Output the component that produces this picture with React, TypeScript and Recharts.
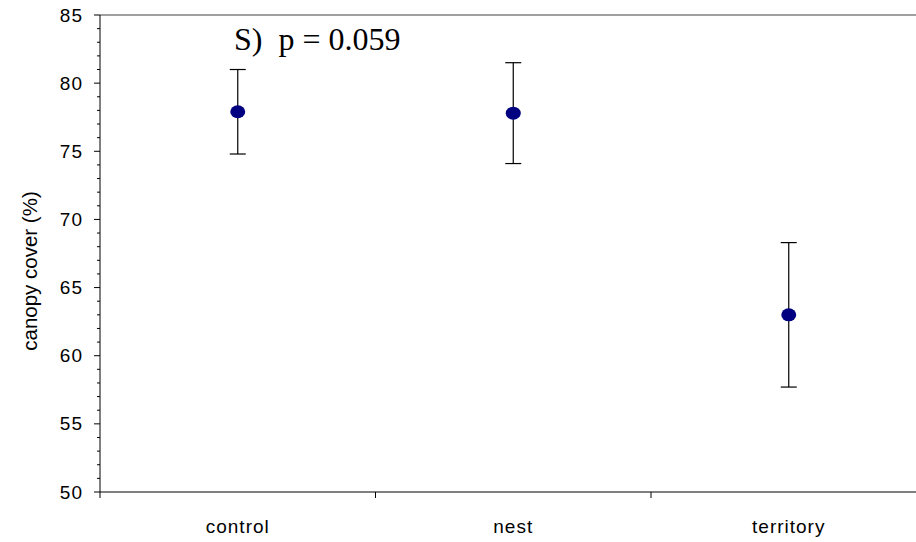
import React from "react";
import {
    ComposedChart,
    Scatter,
    ErrorBar,
    XAxis,
    YAxis,
    ReferenceLine,
} from "recharts";

const categories = ["control", "nest", "territory"];
const means = [77.9, 77.8, 63.0];
const errors = [3.1, 3.7, 5.3];
const majorTicks = [50, 55, 60, 65, 70, 75, 80, 85];
const allTicks = Array.from({ length: 36 }, (_, i) => 50 + i);

const data = categories.map((name, i) => ({
    name,
    mean: means[i],
    err: errors[i],
}));

const sans = "'Liberation Sans', Arial, sans-serif";

function YTick(props: any) {
    const { x, y, payload } = props;
    const major = majorTicks.includes(payload.value);
    return (
        <g>
            <line x1={x - (major ? 6 : 3)} x2={x} y1={y} y2={y} stroke="#000" />
            {major && (
                <text
                    x={x - 17}
                    y={y}
                    textAnchor="end"
                    dominantBaseline="central"
                    fontSize={19}
                    letterSpacing={1}
                    fontFamily={sans}
                    fill="#000"
                >
                    {payload.value}
                </text>
            )}
        </g>
    );
}

function XTick(props: any) {
    const { x, y, payload, index, width } = props;
    const half = payload.offset || width / categories.length / 2;
    return (
        <g>
            <line x1={x + half} x2={x + half} y1={y} y2={y + 6} stroke="#000" />
            {index === 0 && (
                <line x1={x - half} x2={x - half} y1={y} y2={y + 6} stroke="#000" />
            )}
            <text
                x={x}
                y={y + 41}
                textAnchor="middle"
                fontSize={19}
                letterSpacing={1}
                fontFamily={sans}
                fill="#000"
            >
                {payload.value}
            </text>
        </g>
    );
}

function Dot(props: any) {
    const { cx, cy } = props;
    return <ellipse cx={cx} cy={cy} rx={7.5} ry={6.5} fill="#000080" />;
}

function YLabel() {
    return (
        <text
            x={29}
            y={271}
            transform="rotate(-90, 29, 271)"
            textAnchor="middle"
            dominantBaseline="central"
            fontSize={20.5}
            fontFamily={sans}
            fill="#000"
        >
            canopy cover (%)
        </text>
    );
}

export default function App() {
    return (
        <div
            style={{
                position: "absolute",
                left: 0,
                top: 0,
                width: 916,
                height: 542,
                overflow: "hidden",
                background: "#fff",
            }}
        >
            <ComposedChart
                width={940}
                height={542}
                data={data}
                margin={{ top: 15, right: 13.5, left: 0, bottom: 0 }}
            >
                <XAxis
                    dataKey="name"
                    scale="band"
                    height={50}
                    tickLine={false}
                    tickSize={0}
                    tickMargin={0}
                    interval={0}
                    stroke="#000"
                    tick={<XTick />}
                />
                <YAxis
                    width={100}
                    domain={[50, 85]}
                    ticks={allTicks}
                    interval={0}
                    tickLine={false}
                    tickSize={0}
                    tickMargin={0}
                    stroke="#000"
                    tick={<YTick />}
                    label={<YLabel />}
                />
                <ReferenceLine y={85} stroke="#808080" strokeWidth={1.5} />
                <Scatter dataKey="mean" shape={<Dot />} isAnimationActive={false}>
                    <ErrorBar
                        dataKey="err"
                        direction="y"
                        width={8}
                        stroke="#000"
                        strokeWidth={1.2}
                        isAnimationActive={false}
                    />
                </Scatter>
            </ComposedChart>
            <div
                style={{
                    position: "absolute",
                    left: 234,
                    top: 23,
                    fontFamily: "'Liberation Serif', 'Times New Roman', serif",
                    fontSize: 32,
                    lineHeight: "32px",
                    whiteSpace: "pre",
                    color: "#000",
                }}
            >
                S)  p = 0.059
            </div>
        </div>
    );
}
